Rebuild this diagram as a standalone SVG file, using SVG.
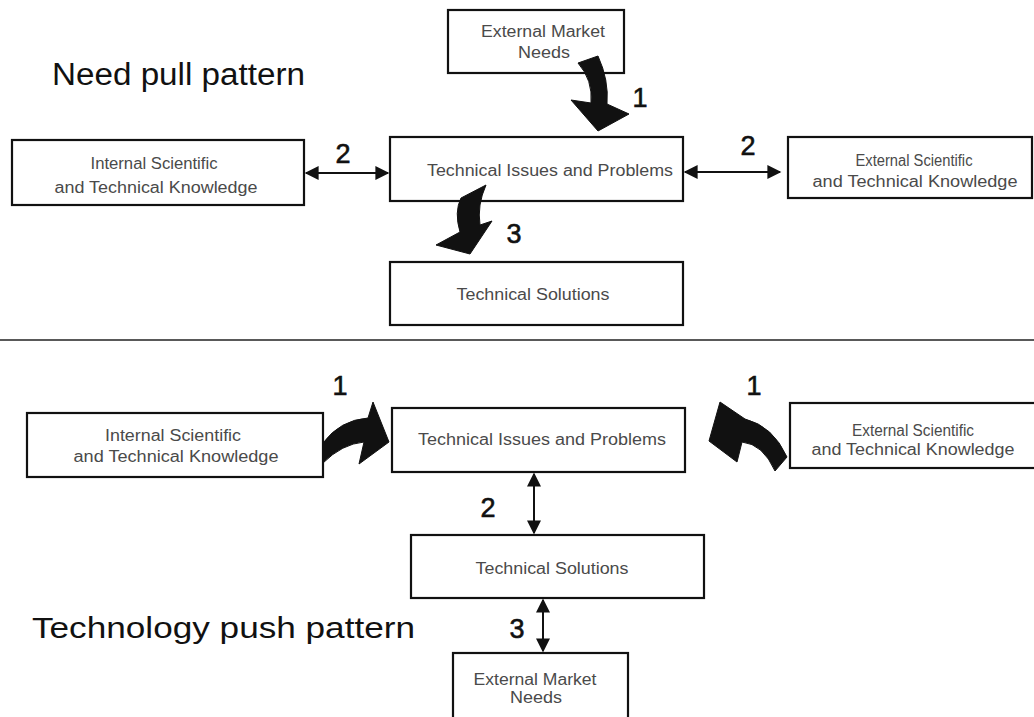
<svg xmlns="http://www.w3.org/2000/svg" width="1034" height="717" viewBox="0 0 1034 717">
<style>
.box{fill:#fff;stroke:#111;stroke-width:2.2}
.t{font-family:"Liberation Sans",Arial,sans-serif;font-size:16px;fill:#4a4a4a;text-anchor:middle}
.n{font-family:"Liberation Sans",Arial,sans-serif;font-size:27px;fill:#111;text-anchor:middle;stroke:#111;stroke-width:0.6}
.title{font-family:"Liberation Sans",Arial,sans-serif;fill:#111}
.line{stroke:#111;stroke-width:2;fill:none}
.curve{fill:#111;stroke:#111;stroke-width:1}
</style>
<defs>
<marker id="ah" viewBox="0 0 10 10" refX="9" refY="5" markerWidth="7.5" markerHeight="7" orient="auto-start-reverse" markerUnits="strokeWidth">
<path d="M0,0 L10,5 L0,10 z" fill="#111"/>
</marker>
</defs>
<rect width="1034" height="717" fill="#fff"/>
<text class="title" x="52" y="85" font-size="31" textLength="253" lengthAdjust="spacingAndGlyphs">Need pull pattern</text>
<text class="title" x="32" y="638" font-size="29" textLength="383" lengthAdjust="spacingAndGlyphs">Technology push pattern</text>
<line x1="0" y1="340" x2="1034" y2="340" stroke="#222" stroke-width="1.5"/>

<g id="top-market">
<rect class="box" x="448" y="10" width="176" height="63"/>
<text class="t" x="543" y="37" textLength="124" lengthAdjust="spacingAndGlyphs">External Market</text>
<text class="t" x="544" y="58" textLength="52" lengthAdjust="spacingAndGlyphs">Needs</text>
</g>
<g id="top-internal">
<rect class="box" x="12" y="140" width="292" height="65"/>
<text class="t" x="154" y="169" textLength="127" lengthAdjust="spacingAndGlyphs">Internal Scientific</text>
<text class="t" x="156" y="193" textLength="203" lengthAdjust="spacingAndGlyphs">and Technical Knowledge</text>
</g>
<g id="top-issues">
<rect class="box" x="390" y="137" width="293" height="64"/>
<text class="t" x="550" y="176" textLength="246" lengthAdjust="spacingAndGlyphs">Technical Issues and Problems</text>
</g>
<g id="top-external">
<rect class="box" x="788" y="137" width="244" height="61"/>
<text class="t" x="914" y="166" textLength="117" lengthAdjust="spacingAndGlyphs">External Scientific</text>
<text class="t" x="915" y="187" textLength="205" lengthAdjust="spacingAndGlyphs">and Technical Knowledge</text>
</g>
<g id="top-solutions">
<rect class="box" x="390" y="262" width="293" height="63"/>
<text class="t" x="533" y="300" textLength="153" lengthAdjust="spacingAndGlyphs">Technical Solutions</text>
</g>

<g id="bot-internal">
<rect class="box" x="27" y="413" width="296" height="64"/>
<text class="t" x="173" y="441" textLength="136" lengthAdjust="spacingAndGlyphs">Internal Scientific</text>
<text class="t" x="176" y="462" textLength="205" lengthAdjust="spacingAndGlyphs">and Technical Knowledge</text>
</g>
<g id="bot-issues">
<rect class="box" x="392" y="408" width="293" height="64"/>
<text class="t" x="542" y="445" textLength="248" lengthAdjust="spacingAndGlyphs">Technical Issues and Problems</text>
</g>
<g id="bot-external">
<rect class="box" x="790" y="403" width="246" height="65"/>
<text class="t" x="913" y="436" textLength="122" lengthAdjust="spacingAndGlyphs">External Scientific</text>
<text class="t" x="913" y="455" textLength="203" lengthAdjust="spacingAndGlyphs">and Technical Knowledge</text>
</g>
<g id="bot-solutions">
<rect class="box" x="411" y="535" width="293" height="63"/>
<text class="t" x="552" y="574" textLength="153" lengthAdjust="spacingAndGlyphs">Technical Solutions</text>
</g>
<g id="bot-market">
<rect class="box" x="453" y="653" width="175" height="70"/>
<text class="t" x="535" y="685" textLength="123" lengthAdjust="spacingAndGlyphs">External Market</text>
<text class="t" x="536" y="703" textLength="52" lengthAdjust="spacingAndGlyphs">Needs</text>
</g>

<g id="connectors">
<path class="curve" d="M 578 63 L 598 56 Q 609 80 607 104 L 629 114 L 598 131 L 571 100 L 591 103 Q 593 80 578 63 Z"/>
<text class="n" x="640" y="107">1</text>
<line class="line" x1="306" y1="173" x2="388" y2="173" marker-start="url(#ah)" marker-end="url(#ah)"/>
<text class="n" x="343" y="163">2</text>
<line class="line" x1="685" y1="172" x2="780" y2="172" marker-start="url(#ah)" marker-end="url(#ah)"/>
<text class="n" x="748" y="155">2</text>
<path class="curve" d="M 461 198 L 486 185 Q 477 205 480 225 L 492 221 L 470 254 L 436 245 L 460 232 Q 454 212 461 198 Z"/>
<text class="n" x="514" y="243">3</text>

<path class="curve" d="M 323 443 Q 340 420 368 418 L 373 402 L 389 442 L 359 464 L 364 442 Q 342 444 323 463 Z"/>
<text class="n" x="340" y="395">1</text>
<path class="curve" d="M 787 457 Q 773 426 745 419 L 720 402 L 709 441 L 737 462 L 742 442 Q 763 444 775 471 Z"/>
<text class="n" x="754" y="395">1</text>
<line class="line" x1="534" y1="474" x2="534" y2="533" marker-start="url(#ah)" marker-end="url(#ah)"/>
<text class="n" x="488" y="517">2</text>
<line class="line" x1="543" y1="600" x2="543" y2="651" marker-start="url(#ah)" marker-end="url(#ah)"/>
<text class="n" x="517" y="638">3</text>
</g>
</svg>
